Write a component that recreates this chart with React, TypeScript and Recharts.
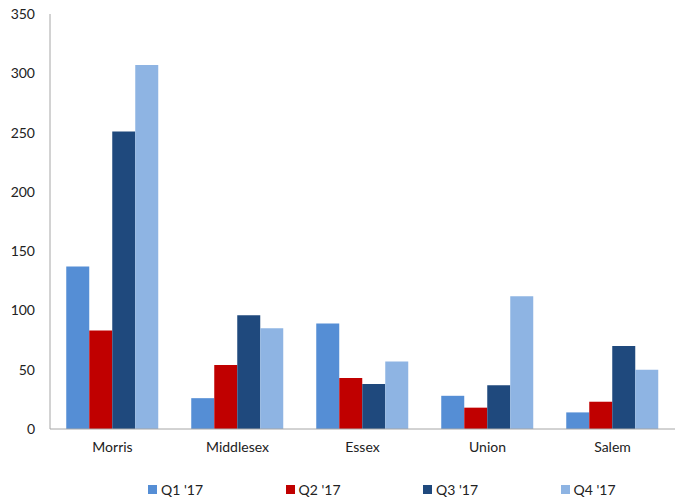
import React from "react";
import { BarChart, Bar, XAxis, YAxis, Legend } from "recharts";

const categories = ["Morris", "Middlesex", "Essex", "Union", "Salem"];
const q1 = [137, 26, 89, 28, 14];
const q2 = [83, 54, 43, 18, 23];
const q3 = [251, 96, 38, 37, 70];
const q4 = [307, 85, 57, 112, 50];
const yTicks = [0, 50, 100, 150, 200, 250, 300, 350];

const series = [
  { key: "q1", name: "Q1 '17", color: "#558ED5" },
  { key: "q2", name: "Q2 '17", color: "#C00000" },
  { key: "q3", name: "Q3 '17", color: "#1F497D" },
  { key: "q4", name: "Q4 '17", color: "#8EB4E3" },
];

const data = categories.map((c, i) => ({ name: c, q1: q1[i], q2: q2[i], q3: q3[i], q4: q4[i] }));

const FONT = "Lato, 'Liberation Sans', sans-serif";

const renderLegend = () => (
  <div style={{ display: "flex", justifyContent: "flex-start", paddingLeft: 148, fontFamily: FONT, fontSize: 14, color: "#222" }}>
    {series.map((s) => (
      <div key={s.key} style={{ width: 137.5, flexShrink: 0, display: "flex", alignItems: "center" }}>
        <span style={{ display: "inline-block", width: 9, height: 9, background: s.color, marginRight: 4 }} />
        <span>{s.name}</span>
      </div>
    ))}
  </div>
);

export default function App() {
  return (
    <div style={{ position: "absolute", left: 0, top: 0, background: "#fff" }}>
      <BarChart width={677} height={500} data={data} margin={{ top: 14, right: 2, left: 0, bottom: 2 }} barCategoryGap="13%" barGap={0}>
        <XAxis dataKey="name" axisLine={{ stroke: "#A6A6A6" }} tickLine={false} tickMargin={7} height={52}
          tick={{ fontFamily: FONT, fontSize: 14, fill: "#222" }} />
        <YAxis domain={[0, 350]} ticks={yTicks} axisLine={{ stroke: "#A6A6A6" }} tickLine={false} tickMargin={9} width={50}
          tick={{ fontFamily: FONT, fontSize: 14, fill: "#222" }} interval={0} />
        <Legend verticalAlign="bottom" content={renderLegend} />
        {series.map((s) => (
          <Bar key={s.key} dataKey={s.key} name={s.name} fill={s.color} isAnimationActive={false} />
        ))}
      </BarChart>
    </div>
  );
}
